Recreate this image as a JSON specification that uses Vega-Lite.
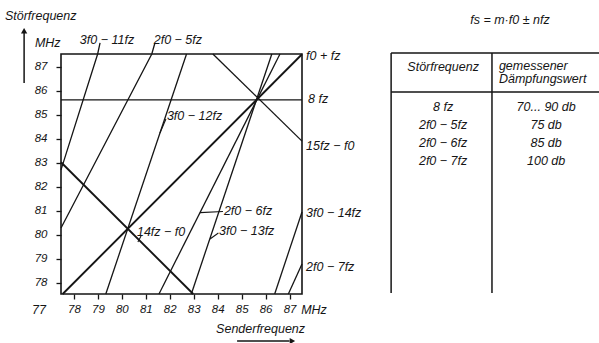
{
"$schema": "https://vega.github.io/schema/vega-lite/v6.json",
"width": 241, "height": 240,
"autosize": {"type": "none"},
"padding": {"left": 61, "top": 54, "right": 297, "bottom": 49},
"background": "white",
"config": {
  "view": {"stroke": "#151515", "strokeWidth": 1.6},
  "axis": {"labelFont": "Liberation Sans", "labelFontStyle": "italic", "labelFontSize": 11.5, "labelColor": "#151515", "tickColor": "#151515", "tickWidth": 1.3, "tickSize": 5, "domain": false, "grid": false},
  "text": {"font": "Liberation Sans", "fontStyle": "italic", "fontSize": 12.5, "color": "#151515", "baseline": "middle"}
},
"datasets": {
  "lines": [
    {"line": "f0+fz", "x": 77.53, "y": 77.53}, {"line": "f0+fz", "x": 87.52, "y": 87.52},
    {"line": "8fz", "x": 77.46, "y": 85.62}, {"line": "8fz", "x": 87.52, "y": 85.62},
    {"line": "15fz-f0", "x": 83.8, "y": 87.53}, {"line": "15fz-f0", "x": 87.52, "y": 83.9},
    {"line": "14fz-f0", "x": 77.46, "y": 83.02}, {"line": "14fz-f0", "x": 82.98, "y": 77.53},
    {"line": "2f0-5fz", "x": 77.46, "y": 80.28}, {"line": "2f0-5fz", "x": 81.25, "y": 87.53}, {"line": "2f0-5fz", "x": 81.38, "y": 87.99},
    {"line": "3f0-11fz", "x": 77.46, "y": 82.7}, {"line": "3f0-11fz", "x": 78.99, "y": 87.53}, {"line": "3f0-11fz", "x": 79.09, "y": 87.99},
    {"line": "3f0-12fz", "x": 79.33, "y": 77.53}, {"line": "3f0-12fz", "x": 82.7, "y": 87.53},
    {"line": "2f0-6fz", "x": 81.55, "y": 77.53}, {"line": "2f0-6fz", "x": 86.6, "y": 87.53},
    {"line": "3f0-13fz", "x": 82.9, "y": 77.53}, {"line": "3f0-13fz", "x": 86.26, "y": 87.53},
    {"line": "3f0-14fz", "x": 86.38, "y": 77.53}, {"line": "3f0-14fz", "x": 87.52, "y": 80.95},
    {"line": "2f0-7fz", "x": 86.95, "y": 77.53}, {"line": "2f0-7fz", "x": 87.52, "y": 78.78}
  ],
  "endLabels": [
    {"text": "f0 + fz", "x": 87.69, "y": 87.45},
    {"text": "8 fz", "x": 87.77, "y": 85.66},
    {"text": "15fz − f0", "x": 87.69, "y": 83.7},
    {"text": "3f0 − 14fz", "x": 87.69, "y": 80.91},
    {"text": "2f0 − 7fz", "x": 87.69, "y": 78.66}
  ],
  "topLabels": [
    {"text": "3f0 − 11fz", "x": 79.38, "y": 88.11},
    {"text": "2f0 − 5fz", "x": 82.34, "y": 88.11}
  ],
  "inLabels": [
    {"text": "3f0 − 12fz", "x": 81.88, "y": 84.95},
    {"text": "2f0 − 6fz", "x": 84.26, "y": 80.99},
    {"text": "3f0 − 13fz", "x": 84.06, "y": 80.16},
    {"text": "14fz − f0", "x": 80.63, "y": 80.13}
  ],
  "leaders": [
    {"x": 81.84, "y": 84.82, "x2": 81.59, "y2": 84.24},
    {"x": 84.22, "y": 80.97, "x2": 83.26, "y2": 80.92},
    {"x": 84.03, "y": 80.07, "x2": 83.68, "y2": 79.82},
    {"x": 80.8, "y": 79.95, "x2": 80.67, "y2": 79.7}
  ],
  "leftTexts": [
    {"text": "Störfrequenz", "x": 75.12, "y": 89.11},
    {"text": "MHz", "x": 76.37, "y": 87.99}
  ],
  "centerTexts": [
    {"text": "77", "x": 76.54, "y": 76.86},
    {"text": "MHz", "x": 88.02, "y": 76.86},
    {"text": "Senderfrequenz", "x": 85.79, "y": 76.07},
    {"text": "fs = m·f0 ± nfz", "x": 96.2, "y": 88.95}
  ],
  "arrows": [
    {"x": 75.92, "y": 86.32, "x2": 75.92, "y2": 88.4},
    {"x": 84.81, "y": 75.57, "x2": 87.0, "y2": 75.57}
  ],
  "upHead": [{"x": 75.92, "y": 88.5}],
  "rightHead": [{"x": 87.12, "y": 75.57}],
  "tableRules": [
    {"x": 91.24, "y": 87.57, "x2": 100.4, "y2": 87.57},
    {"x": 91.24, "y": 85.95, "x2": 100.4, "y2": 85.95},
    {"x": 91.24, "y": 87.57, "x2": 91.24, "y2": 77.57},
    {"x": 95.45, "y": 87.57, "x2": 95.45, "y2": 77.57}
  ],
  "tableCells": [
    {"text": "Störfrequenz", "x": 93.41, "y": 86.99},
    {"text": "8 fz", "x": 93.41, "y": 85.32},
    {"text": "2f0 − 5fz", "x": 93.41, "y": 84.57},
    {"text": "2f0 − 6fz", "x": 93.41, "y": 83.82},
    {"text": "2f0 − 7fz", "x": 93.41, "y": 83.07},
    {"text": "70... 90 db", "x": 97.71, "y": 85.32},
    {"text": "75 db", "x": 97.71, "y": 84.57},
    {"text": "85 db", "x": 97.71, "y": 83.82},
    {"text": "100 db", "x": 97.71, "y": 83.07}
  ],
  "tableHead": [
    {"text": "gemessener", "x": 95.74, "y": 87.03},
    {"text": "Dämpfungswert", "x": 95.74, "y": 86.49}
  ]
},
"encoding": {
  "x": {"field": "x", "type": "quantitative", "scale": {"domain": [77.46, 87.52], "nice": false, "zero": false}, "axis": {"values": [78, 79, 80, 81, 82, 83, 84, 85, 86, 87], "title": null, "labelPadding": 4, "labelFlush": false}},
  "y": {"field": "y", "type": "quantitative", "scale": {"domain": [77.53, 87.53], "nice": false, "zero": false}, "axis": {"values": [78, 79, 80, 81, 82, 83, 84, 85, 86, 87], "title": null, "labelPadding": 9, "labelFlush": false}}
},
"layer": [
  {"data": {"name": "lines"}, "transform": [{"filter": {"not": {"field": "line", "oneOf": ["f0+fz", "14fz-f0"]}}}],
   "mark": {"type": "line", "stroke": "#151515", "strokeWidth": 1.3, "clip": false},
   "encoding": {"detail": {"field": "line"}}},
  {"data": {"name": "lines"}, "transform": [{"filter": {"field": "line", "oneOf": ["f0+fz", "14fz-f0"]}}],
   "mark": {"type": "line", "stroke": "#151515", "strokeWidth": 1.9, "clip": false},
   "encoding": {"detail": {"field": "line"}}},
  {"data": {"name": "leaders"}, "mark": {"type": "rule", "stroke": "#151515", "strokeWidth": 1.1},
   "encoding": {"x2": {"field": "x2"}, "y2": {"field": "y2"}}},
  {"data": {"name": "arrows"}, "mark": {"type": "rule", "stroke": "#151515", "strokeWidth": 1.5},
   "encoding": {"x2": {"field": "x2"}, "y2": {"field": "y2"}}},
  {"data": {"name": "upHead"}, "mark": {"type": "point", "shape": "triangle-up", "filled": true, "color": "#151515", "size": 40, "opacity": 1}},
  {"data": {"name": "rightHead"}, "mark": {"type": "point", "shape": "triangle-right", "filled": true, "color": "#151515", "size": 40, "opacity": 1}},
  {"data": {"name": "tableRules"}, "mark": {"type": "rule", "stroke": "#151515", "strokeWidth": 1.5},
   "encoding": {"x2": {"field": "x2"}, "y2": {"field": "y2"}}},
  {"data": {"name": "endLabels"}, "mark": {"type": "text", "align": "left"}, "encoding": {"text": {"field": "text"}}},
  {"data": {"name": "topLabels"}, "mark": {"type": "text", "align": "center"}, "encoding": {"text": {"field": "text"}}},
  {"data": {"name": "inLabels"}, "mark": {"type": "text", "align": "left"}, "encoding": {"text": {"field": "text"}}},
  {"data": {"name": "leftTexts"}, "mark": {"type": "text", "align": "left"}, "encoding": {"text": {"field": "text"}}},
  {"data": {"name": "centerTexts"}, "mark": {"type": "text", "align": "center"}, "encoding": {"text": {"field": "text"}}},
  {"data": {"name": "tableCells"}, "mark": {"type": "text", "align": "center"}, "encoding": {"text": {"field": "text"}}},
  {"data": {"name": "tableHead"}, "mark": {"type": "text", "align": "left"}, "encoding": {"text": {"field": "text"}}}
]
}
